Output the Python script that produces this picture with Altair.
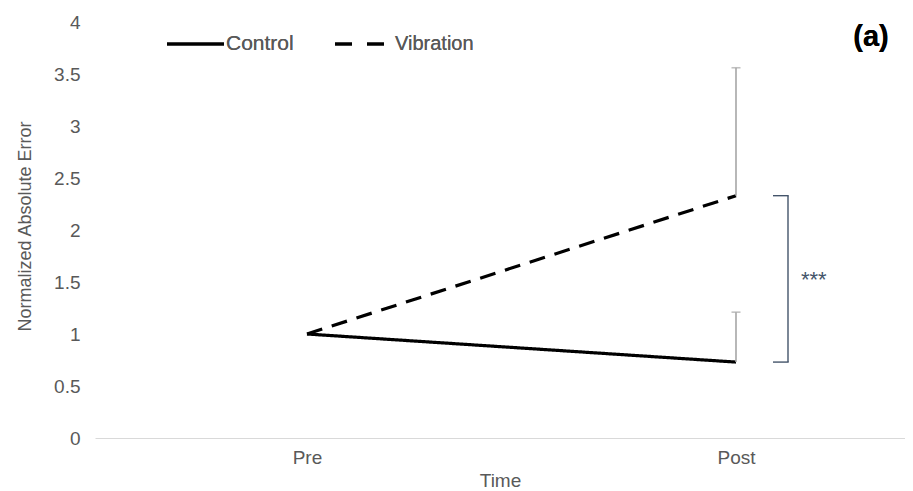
import altair as alt
import pandas as pd

times = ["Pre", "Post"]
control = [1.0, 0.73]
vibration = [1.0, 2.33]
control_err_top = [None, 1.21]
vibration_err_top = [None, 3.56]
series = ["Control", "Vibration"]
y_ticks = [0, 0.5, 1, 1.5, 2, 2.5, 3, 3.5, 4]

FONT = "Liberation Sans"
GRAY = "#595959"

rows = []
for i, t in enumerate(times):
    rows.append({"Time": t, "Series": "Control", "Value": control[i], "Top": control_err_top[i]})
    rows.append({"Time": t, "Series": "Vibration", "Value": vibration[i], "Top": vibration_err_top[i]})
df = pd.DataFrame(rows)
err_df = df.dropna(subset=["Top"])

xscale = alt.Scale(type="point", domain=times, padding=0.444, align=0.5564)
yscale = alt.Scale(domain=[0, 4], nice=False)

base = alt.Chart(df)

lines = base.mark_line(strokeWidth=3.2, color="black").encode(
    x=alt.X("Time:N", scale=xscale, sort=times,
            axis=alt.Axis(title="Time", labelAngle=0, ticks=False, domainColor="#d9d9d9",
                          domainWidth=1.2, labelFont=FONT, labelFontSize=19, labelColor=GRAY,
                          labelPadding=10, titleFont=FONT, titleFontSize=19, titleColor=GRAY,
                          titleFontWeight="normal", titlePadding=4)),
    y=alt.Y("Value:Q", scale=yscale,
            axis=alt.Axis(title="Normalized Absolute Error", values=y_ticks, format="~g",
                          grid=False, domain=False, ticks=False, labelFont=FONT,
                          labelFontSize=19, labelColor=GRAY, labelPadding=15,
                          titleFont=FONT, titleFontSize=18, titleColor=GRAY,
                          titleFontWeight="normal", titleX=-70, titleY=204,
                          titleAngle=270, titleAlign="center", titleBaseline="middle")),
    strokeDash=alt.StrokeDash("Series:N", scale=alt.Scale(domain=series, range=[[1, 0], [16, 10]]),
                              legend=None),
    detail="Series:N",
)

err_rule = alt.Chart(err_df).mark_rule(color="#a6a6a6", strokeWidth=1.6).encode(
    x=alt.X("Time:N", scale=xscale, sort=times),
    y=alt.Y("Value:Q", scale=yscale),
    y2="Top:Q",
)
err_cap = alt.Chart(err_df).mark_tick(color="#a6a6a6", thickness=1.6, size=9).encode(
    x=alt.X("Time:N", scale=xscale, sort=times),
    y=alt.Y("Top:Q", scale=yscale),
)

# significance bracket between the two Post means
post_c = control[1]
post_v = vibration[1]
brk = pd.DataFrame({"lo": [post_c], "hi": [post_v], "mid": [(post_c + post_v) / 2]})
BR = "#44546a"
br_v = alt.Chart(brk).mark_rule(color=BR, strokeWidth=1.4).encode(
    x=alt.value(693), y=alt.Y("lo:Q", scale=yscale), y2="hi:Q")
br_t1 = alt.Chart(brk).mark_rule(color=BR, strokeWidth=1.4).encode(
    x=alt.value(678), x2=alt.value(693.7), y=alt.Y("lo:Q", scale=yscale))
br_t2 = alt.Chart(brk).mark_rule(color=BR, strokeWidth=1.4).encode(
    x=alt.value(678), x2=alt.value(693.7), y=alt.Y("hi:Q", scale=yscale))
br_txt = alt.Chart(brk).mark_text(text="***", color=BR, font=FONT, fontSize=22,
                                  align="left", baseline="middle", dy=1).encode(
    x=alt.value(706), y=alt.Y("mid:Q", scale=yscale))

# manual legend
leg = pd.DataFrame({"s": series})
leg_c = alt.Chart(leg).mark_rule(color="black", strokeWidth=3.2).encode(
    x=alt.value(72), x2=alt.value(129), y=alt.value(22))
leg_v = alt.Chart(leg).mark_rule(color="black", strokeWidth=3.2, strokeDash=[17, 15]).encode(
    x=alt.value(240), x2=alt.value(289), y=alt.value(22))
leg_ct = alt.Chart(leg).mark_text(text="Control", font=FONT, fontSize=21, color=GRAY,
                                  align="left", baseline="middle").encode(
    x=alt.value(131), y=alt.value(22))
leg_vt = alt.Chart(leg).mark_text(text="Vibration", font=FONT, fontSize=20, color=GRAY,
                                  align="left", baseline="middle").encode(
    x=alt.value(300), y=alt.value(22))
label_a = alt.Chart(leg).mark_text(text="(a)", font=FONT, fontSize=29, fontWeight="bold",
                                   color="black", align="center", baseline="middle").encode(
    x=alt.value(776), y=alt.value(15))

chart = alt.layer(lines, err_rule, err_cap, br_v, br_t1, br_t2, br_txt,
                  leg_c, leg_v, leg_ct, leg_vt, label_a).properties(
    width=810, height=416,
    autosize=alt.AutoSizeParams(type="none"),
    padding={"left": 87, "top": 14, "right": 0, "bottom": 52},
).configure_view(stroke=None)

chart.save("out.html", embed_options={"renderer": "svg", "actions": False})
